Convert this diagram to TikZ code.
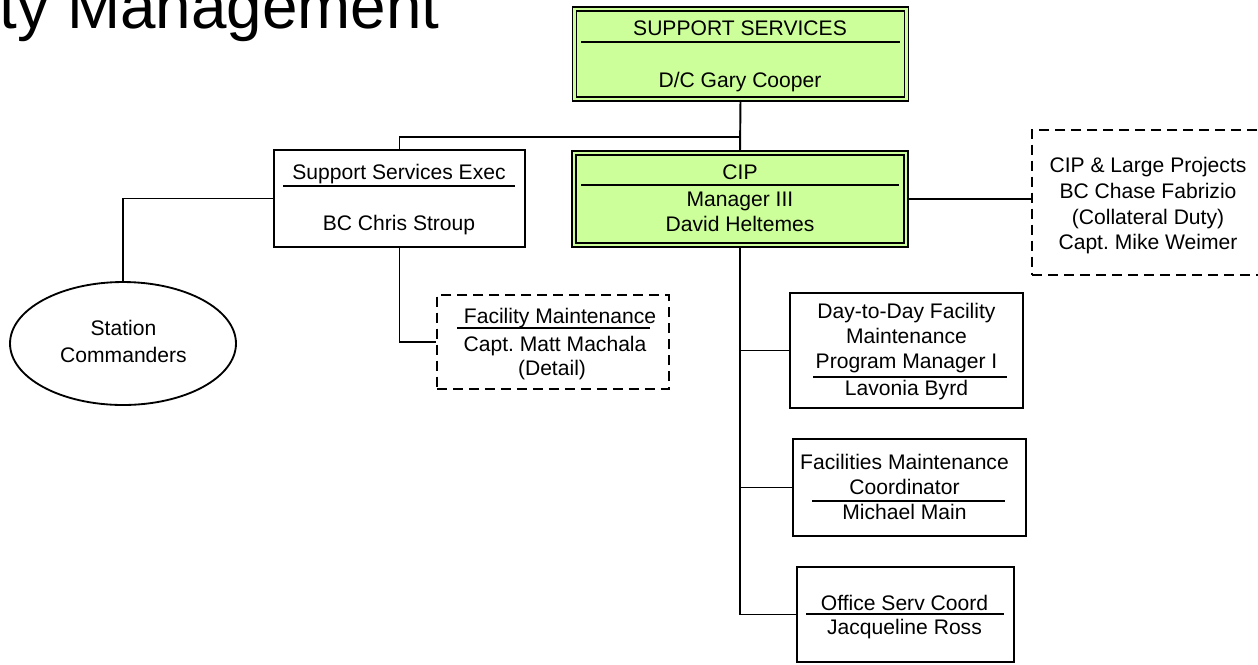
\documentclass[tikz,border=0pt]{standalone}
\usepackage{fontspec}
\setmainfont{Liberation Sans}
\usepackage{xcolor}
\usepackage{tikz}
\usetikzlibrary{shapes.geometric}
\usetikzlibrary{backgrounds}
\definecolor{leadgreen}{RGB}{204,255,153}
\frenchspacing

\begin{document}
\begin{tikzpicture}[x=0.02cm, y=-0.02cm, line width=1.05pt,
        unitbox/.style={draw, rectangle, inner sep=0pt},
        leadbox/.style={unitbox, fill=leadgreen, double=leadgreen, double distance=1.6pt, line width=0.75pt},
        dutybox/.style={unitbox, dash pattern=on 5.7pt off 3.4pt},
        txt/.style={anchor=base, inner sep=0pt, font=\fontsize{12}{14}\selectfont},
        divider/.style={line width=1pt},
        link/.style={line width=1.1pt}]
        \useasboundingbox (0, 0) rectangle (1258, 664);
        \clip (0, 0) rectangle (1258, 664);

        \node[anchor=base west, inner sep=0pt, font=\fontsize{36.3}{40}\selectfont] (title) at (-1, 28.5) {ty Management};

        % boxes
        \node[leadbox, minimum width=6.64cm, minimum height=1.8cm] (ss) at (740.5, 54) {};
        \node[unitbox, minimum width=5.02cm, minimum height=1.94cm] (sse) at (399.5, 198.5) {};
        \node[leadbox, minimum width=6.64cm, minimum height=1.84cm] (cip) at (740, 199) {};
        \node[dutybox, minimum width=4.64cm, minimum height=2.9cm] (large) at (1148, 202.5) {};
        \node[dutybox, minimum width=4.64cm, minimum height=1.88cm] (fm) at (553, 342) {};
        \node[draw, ellipse, inner sep=0pt, minimum width=4.52cm, minimum height=2.46cm] (sc) at (123, 343.5) {};
        \node[unitbox, minimum width=4.66cm, minimum height=2.3cm] (dd) at (906.5, 350.5) {};
        \node[unitbox, minimum width=4.66cm, minimum height=1.94cm] (fmc) at (909.5, 487.5) {};
        \node[unitbox, minimum width=4.34cm, minimum height=1.9cm] (osc) at (905.5, 614.5) {};

        % texts
        \node[txt] (ssunit) at (740, 35.5) {SUPPORT SERVICES};
        \node[txt] (sshead) at (740, 87.5) {D/C Gary Cooper};
        \draw[divider] (581, 42) -- (900, 42);

        \node[txt] (sseunit) at (399, 179.5) {Support Services Exec};
        \node[txt] (ssehead) at (399, 230.5) {BC Chris Stroup};
        \draw[divider] (283, 186) -- (515, 186);

        \node[txt] (cipunit) at (740, 179.5) {CIP};
        \node[txt] (ciprank) at (740, 206.5) {Manager III};
        \node[txt] (ciphead) at (740, 231.5) {David Heltemes};
        \draw[divider] (581, 185) -- (899, 185);

        \node[txt] (largeunit) at (1148, 172.5) {CIP \& Large Projects};
        \node[txt] (largehead) at (1148, 198.5) {BC Chase Fabrizio};
        \node[txt] (largeduty) at (1148, 224.5) {(Collateral Duty)};
        \node[txt] (largecapt) at (1148, 249.5) {Capt. Mike Weimer};

        \node[txt] (fmunit) at (560, 323.5) {Facility Maintenance};
        \node[txt] (fmhead) at (555, 351.5) {Capt. Matt Machala};
        \node[txt] (fmnote) at (552, 375.5) {(Detail)};
        \draw[divider] (457, 328) -- (650, 328);

        \node[txt] (scline1) at (123.5, 335) {Station};
        \node[txt] (scline2) at (123.5, 362) {Commanders};

        \node[txt] (ddline1) at (906.5, 318) {Day-to-Day Facility};
        \node[txt] (ddline2) at (906.5, 343) {Maintenance};
        \node[txt] (ddrank) at (906.5, 368) {Program Manager I};
        \node[txt] (ddhead) at (906.5, 395.5) {Lavonia Byrd};
        \draw[divider] (813, 377) -- (1007, 377);

        \node[txt] (fmcline1) at (904.5, 469.5) {Facilities Maintenance};
        \node[txt] (fmcline2) at (904.5, 494.5) {Coordinator};
        \node[txt] (fmchead) at (904.5, 519.5) {Michael Main};
        \draw[divider] (812, 501) -- (1005, 501);

        \node[txt] (oscunit) at (904.5, 610) {Office Serv Coord};
        \node[txt] (oschead) at (904.5, 634) {Jacqueline Ross};
        \draw[divider] (806, 614) -- (1004, 614);

        % connectors
        \begin{scope}[on background layer]
            \coordinate (split) at (740.5, 137);
            \draw[link] (ss.south) -- (cip.north);
            \draw[link] (split) -| (sse.north);
            \draw[link] (sse.west) -| (sc.north);
            \draw[link] (sse.south) |- (fm.west);
            \draw[link] (cip.east) -- (cip.east -| large.west);
            \draw[link] (cip.south) |- (osc.west);
            \draw[link] (cip.south |- dd.west) -- (dd.west);
            \draw[link] (cip.south |- fmc.west) -- (fmc.west);
        \end{scope}
    \end{tikzpicture}
\end{document}
